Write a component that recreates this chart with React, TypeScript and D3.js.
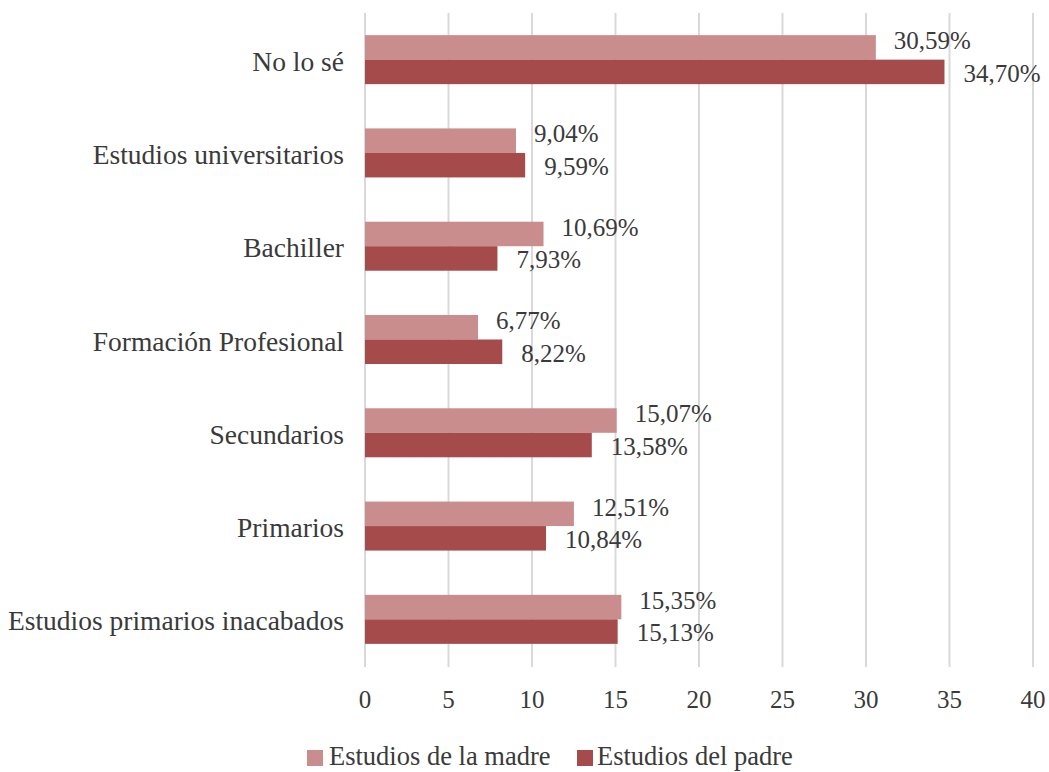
import React from "react";
import * as d3 from "d3";

const categories = [
  "No lo sé",
  "Estudios universitarios",
  "Bachiller",
  "Formación Profesional",
  "Secundarios",
  "Primarios",
  "Estudios primarios inacabados",
];
const madre = [30.59, 9.04, 10.69, 6.77, 15.07, 12.51, 15.35];
const padre = [34.7, 9.59, 7.93, 8.22, 13.58, 10.84, 15.13];
const xTicks = [0, 5, 10, 15, 20, 25, 30, 35, 40];
const seriesNames = ["Estudios de la madre", "Estudios del padre"];
const colors = ["#ca8d8d", "#a64b4b"];

const W = 1049;
const H = 772;
const FONT = "'Liberation Serif', 'Times New Roman', serif";
const TXT = "#3a3a3a";

export default function App() {
  const x = d3.scaleLinear().domain([0, 40]).range([365, 1033]);
  const y = d3.scaleBand<string>().domain(categories).range([13, 666]).paddingInner(0).paddingOuter(0);
  const bw = y.bandwidth();
  const barH = 24.5;
  const fmt = (v: number) => v.toFixed(2).replace(".", ",") + "%";

  return (
    <svg width={W} height={H} style={{ position: "absolute", left: 0, top: 0 }} fontFamily={FONT}>
      <rect width={W} height={H} fill="#fff" />
      {xTicks.map((t) => (
        <line key={"g" + t} x1={x(t)} x2={x(t)} y1={13} y2={667} stroke="#d9d9d9" strokeWidth={2} />
      ))}
      {categories.map((c, i) => {
        const cy = (y(c) as number) + bw / 2;
        return (
          <g key={c}>
            <rect x={x(0)} y={cy - barH} width={x(madre[i]) - x(0)} height={barH} fill={colors[0]} />
            <rect x={x(0)} y={cy} width={x(padre[i]) - x(0)} height={barH} fill={colors[1]} />
            <text x={x(madre[i]) + 18} y={cy - 10.5} fontSize={25} fill={TXT}>
              {fmt(madre[i])}
            </text>
            <text x={x(padre[i]) + 19} y={cy + 22} fontSize={25} fill={TXT}>
              {fmt(padre[i])}
            </text>
            <text x={344} y={cy + 11} fontSize={27.5} textAnchor="end" fill={TXT}>
              {c}
            </text>
          </g>
        );
      })}
      {xTicks.map((t) => (
        <text key={"t" + t} x={x(t)} y={708} fontSize={25} textAnchor="middle" fill={TXT}>
          {t}
        </text>
      ))}
      <g>
        <rect x={307} y={750} width={16} height={16} fill={colors[0]} />
        <text x={329} y={765} fontSize={26.5} fill={TXT}>{seriesNames[0]}</text>
        <rect x={577} y={750} width={16} height={16} fill={colors[1]} />
        <text x={597} y={765} fontSize={26.5} fill={TXT}>{seriesNames[1]}</text>
      </g>
    </svg>
  );
}
